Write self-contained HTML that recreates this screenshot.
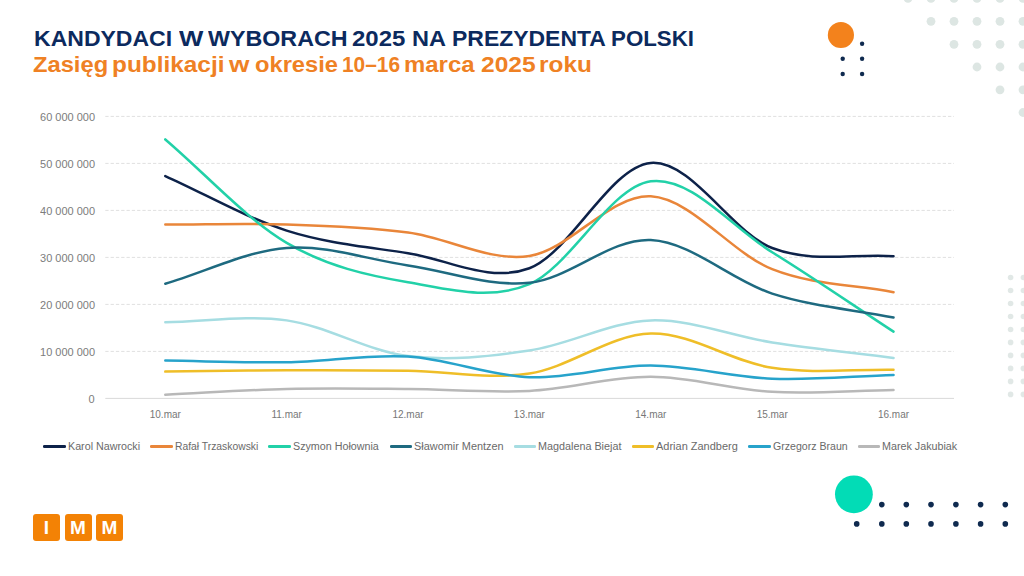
<!DOCTYPE html>
<html lang="pl"><head><meta charset="utf-8"><title>Kandydaci w wyborach 2025</title>
<style>
html,body{margin:0;padding:0;background:#fff;}
body{width:1024px;height:576px;position:relative;overflow:hidden;font-family:"Liberation Sans",sans-serif;}
svg.bg{position:absolute;left:0;top:0;}
h1,h2{margin:0;position:absolute;left:0;width:720px;height:22px;white-space:nowrap;font-weight:700;font-size:21.5px;line-height:21px;}
h1{top:29.4px;color:#0c2a5e;}
h2{top:55.2px;color:#ef8124;}
h1 span,h2 span{position:absolute;top:0;transform-origin:0 0;}

.yl{position:absolute;right:929px;font-size:10px;color:#7c7c7c;line-height:12px;white-space:nowrap;transform:scaleX(1.099);transform-origin:100% 0;}
.xl{position:absolute;top:408.6px;width:60px;text-align:center;font-size:10px;color:#777;line-height:12px;}
.lg{position:absolute;top:445px;width:22.6px;height:2.6px;border-radius:1.3px;}
.lt{position:absolute;top:440.5px;font-size:10px;color:#6a6a6a;line-height:12px;white-space:nowrap;transform-origin:0 0;}
.logo{position:absolute;top:514px;width:27px;height:27px;background:#f38205;border-radius:3px;color:#fff;font-size:19px;font-weight:700;text-align:center;line-height:27px;}
</style></head><body>
<svg class="bg" width="1024" height="576" viewBox="0 0 1024 576">
<g fill="#dde6e3"><circle cx="908.0" cy="-1.6" r="4.4"/><circle cx="931.0" cy="-1.6" r="4.4"/><circle cx="954.0" cy="-1.6" r="4.4"/><circle cx="977.0" cy="-1.6" r="4.4"/><circle cx="1000.0" cy="-1.6" r="4.4"/><circle cx="1023.0" cy="-1.6" r="4.4"/><circle cx="931.0" cy="21.3" r="4.4"/><circle cx="954.0" cy="21.3" r="4.4"/><circle cx="977.0" cy="21.3" r="4.4"/><circle cx="1000.0" cy="21.3" r="4.4"/><circle cx="1023.0" cy="21.3" r="4.4"/><circle cx="954.0" cy="44.3" r="4.4"/><circle cx="977.0" cy="44.3" r="4.4"/><circle cx="1000.0" cy="44.3" r="4.4"/><circle cx="1023.0" cy="44.3" r="4.4"/><circle cx="977.0" cy="67.0" r="4.4"/><circle cx="1000.0" cy="67.0" r="4.4"/><circle cx="1023.0" cy="67.0" r="4.4"/><circle cx="1000.0" cy="89.8" r="4.4"/><circle cx="1023.0" cy="89.8" r="4.4"/><circle cx="1023.0" cy="112.5" r="4.4"/></g>
<g fill="#e1e8e6"><circle cx="1010.6" cy="277.5" r="2.8"/><circle cx="1023.4" cy="277.5" r="2.8"/><circle cx="1010.6" cy="290.5" r="2.8"/><circle cx="1023.4" cy="290.5" r="2.8"/><circle cx="1010.6" cy="303.5" r="2.8"/><circle cx="1023.4" cy="303.5" r="2.8"/><circle cx="1010.6" cy="316.5" r="2.8"/><circle cx="1023.4" cy="316.5" r="2.8"/><circle cx="1010.6" cy="329.5" r="2.8"/><circle cx="1023.4" cy="329.5" r="2.8"/><circle cx="1010.6" cy="342.4" r="2.8"/><circle cx="1023.4" cy="342.4" r="2.8"/><circle cx="1010.6" cy="355.4" r="2.8"/><circle cx="1023.4" cy="355.4" r="2.8"/><circle cx="1010.6" cy="368.4" r="2.8"/><circle cx="1023.4" cy="368.4" r="2.8"/><circle cx="1010.6" cy="381.4" r="2.8"/><circle cx="1023.4" cy="381.4" r="2.8"/><circle cx="1010.6" cy="394.4" r="2.8"/><circle cx="1023.4" cy="394.4" r="2.8"/></g>
<circle cx="840.9" cy="35" r="13.1" fill="#f3821c"/>
<circle cx="853.9" cy="494.3" r="18.9" fill="#02dcb6"/>
<g fill="#0f2a4f"><circle cx="862.1" cy="43.8" r="2.2"/><circle cx="842.7" cy="58.8" r="2.2"/><circle cx="862.1" cy="58.8" r="2.2"/><circle cx="842.7" cy="74.0" r="2.2"/><circle cx="862.1" cy="74.0" r="2.2"/><circle cx="881.8" cy="504.6" r="2.8"/><circle cx="906.3" cy="504.6" r="2.8"/><circle cx="931.0" cy="504.6" r="2.8"/><circle cx="955.9" cy="504.6" r="2.8"/><circle cx="980.6" cy="504.6" r="2.8"/><circle cx="1005.3" cy="504.6" r="2.8"/><circle cx="856.7" cy="523.9" r="2.8"/><circle cx="881.8" cy="523.9" r="2.8"/><circle cx="906.3" cy="523.9" r="2.8"/><circle cx="931.0" cy="523.9" r="2.8"/><circle cx="955.9" cy="523.9" r="2.8"/><circle cx="980.6" cy="523.9" r="2.8"/><circle cx="1005.3" cy="523.9" r="2.8"/></g>
<g stroke="#e0e0e0" stroke-width="1" stroke-dasharray="3.3 2" fill="none"><line x1="105.3" x2="954" y1="351.40" y2="351.40"/><line x1="105.3" x2="954" y1="304.40" y2="304.40"/><line x1="105.3" x2="954" y1="257.40" y2="257.40"/><line x1="105.3" x2="954" y1="210.40" y2="210.40"/><line x1="105.3" x2="954" y1="163.40" y2="163.40"/><line x1="105.3" x2="954" y1="116.40" y2="116.40"/></g>
<line x1="105.3" x2="954" y1="398.4" y2="398.4" stroke="#d9d9d9" stroke-width="1"/>
<g fill="none" stroke-width="2.5" stroke-linecap="round" stroke-linejoin="round"><path d="M165.30 176.09 C205.76 194.26 246.21 217.76 286.67 230.61 C327.13 243.46 367.58 246.90 408.04 253.17 C448.50 259.44 488.95 283.25 529.41 268.21 C569.87 253.17 610.32 166.30 650.78 162.93 C691.24 159.56 731.69 232.45 772.15 248.00 C812.61 263.55 853.06 253.48 893.52 256.22" stroke="#0d2249"/><path d="M165.30 224.50 C205.76 224.50 246.21 223.17 286.67 224.50 C327.13 225.83 367.58 227.24 408.04 232.49 C448.50 237.74 488.95 262.02 529.41 255.99 C569.87 249.96 610.32 194.11 650.78 196.30 C691.24 198.49 731.69 253.17 772.15 269.15 C812.61 285.13 853.06 284.50 893.52 292.18" stroke="#e9863a"/><path d="M165.30 139.43 C205.76 173.90 246.21 219.02 286.67 242.83 C327.13 266.64 367.58 275.42 408.04 282.31 C448.50 289.20 488.95 301.03 529.41 284.19 C569.87 267.35 610.32 186.59 650.78 181.26 C691.24 175.93 731.69 227.16 772.15 252.23 C812.61 277.30 853.06 305.18 893.52 331.66" stroke="#22d1a8"/><path d="M165.30 283.72 C205.76 271.81 246.21 251.05 286.67 248.00 C327.13 244.94 367.58 259.59 408.04 265.39 C448.50 271.19 488.95 287.01 529.41 282.78 C569.87 278.55 610.32 238.21 650.78 240.01 C691.24 241.81 731.69 280.66 772.15 293.59 C812.61 306.51 853.06 309.57 893.52 317.56" stroke="#1e6a80"/><path d="M165.30 322.26 C205.76 321.63 246.21 314.74 286.67 320.38 C327.13 326.02 367.58 351.09 408.04 356.10 C448.50 361.11 488.95 356.41 529.41 350.46 C569.87 344.51 610.32 321.71 650.78 320.38 C691.24 319.05 731.69 336.20 772.15 342.47 C812.61 348.74 853.06 352.81 893.52 357.98" stroke="#a6dde2"/><path d="M165.30 371.61 C205.76 371.14 246.21 370.36 286.67 370.20 C327.13 370.04 367.58 370.12 408.04 370.67 C448.50 371.22 488.95 379.68 529.41 373.49 C569.87 367.30 610.32 334.48 650.78 333.54 C691.24 332.60 731.69 361.82 772.15 367.85 C812.61 373.88 853.06 369.10 893.52 369.73" stroke="#efbe28"/><path d="M165.30 360.56 C205.76 361.11 246.21 362.88 286.67 362.21 C327.13 361.54 367.58 354.06 408.04 356.57 C448.50 359.08 488.95 375.76 529.41 377.25 C569.87 378.74 610.32 365.26 650.78 365.50 C691.24 365.74 731.69 377.09 772.15 378.66 C812.61 380.23 853.06 376.15 893.52 374.90" stroke="#27a3cb"/><path d="M165.30 394.64 C205.76 392.76 246.21 389.94 286.67 389.00 C327.13 388.06 367.58 388.69 408.04 389.00 C448.50 389.31 488.95 392.92 529.41 390.88 C569.87 388.84 610.32 376.62 650.78 376.78 C691.24 376.94 731.69 389.63 772.15 391.82 C812.61 394.01 853.06 390.57 893.52 389.94" stroke="#b8b8b8"/></g>
</svg>
<h1><span style="left:34.49px;transform:scaleX(1.0708)">KANDYDACI</span> <span style="left:178.97px;transform:scaleX(1.1988)">W</span> <span style="left:208.01px;transform:scaleX(1.0818)">WYBORACH</span> <span style="left:352.45px;transform:scaleX(1.1140)">2025</span> <span style="left:411.97px;transform:scaleX(1.0939)">NA</span> <span style="left:451.50px;transform:scaleX(1.0674)">PREZYDENTA</span> <span style="left:611.04px;transform:scaleX(1.0374)">POLSKI</span></h1>
<h2><span style="left:32.98px;transform:scaleX(1.1031)">Zasięg</span> <span style="left:112.42px;transform:scaleX(1.1340)">publikacji</span> <span style="left:229.06px;transform:scaleX(1.2211)">w</span> <span style="left:254.97px;transform:scaleX(1.1020)">okresie</span> <span style="left:342.01px;transform:scaleX(0.9707)">10–16</span> <span style="left:404.28px;transform:scaleX(1.1133)">marca</span> <span style="left:481.44px;transform:scaleX(1.1408)">2025</span> <span style="left:539.40px;transform:scaleX(1.1342)">roku</span></h2>
<div class="yl" style="top:393.6px">0</div><div class="yl" style="top:346.6px">10 000 000</div><div class="yl" style="top:299.6px">20 000 000</div><div class="yl" style="top:252.6px">30 000 000</div><div class="yl" style="top:205.6px">40 000 000</div><div class="yl" style="top:158.6px">50 000 000</div><div class="yl" style="top:111.6px">60 000 000</div>
<div class="xl" style="left:135.3px">10.mar</div><div class="xl" style="left:256.7px">11.mar</div><div class="xl" style="left:378.0px">12.mar</div><div class="xl" style="left:499.4px">13.mar</div><div class="xl" style="left:620.8px">14.mar</div><div class="xl" style="left:742.2px">15.mar</div><div class="xl" style="left:863.5px">16.mar</div>
<div class="lg" style="left:43.2px;background:#0d2249"></div><div class="lt" style="left:67.6px;transform:scaleX(1.072)">Karol Nawrocki</div><div class="lg" style="left:150.2px;background:#e9863a"></div><div class="lt" style="left:174.7px;transform:scaleX(1.034)">Rafał Trzaskowski</div><div class="lg" style="left:268.4px;background:#22d1a8"></div><div class="lt" style="left:293.0px;transform:scaleX(1.072)">Szymon Hołownia</div><div class="lg" style="left:389.5px;background:#1e6a80"></div><div class="lt" style="left:413.6px;transform:scaleX(1.090)">Sławomir Mentzen</div><div class="lg" style="left:513.5px;background:#a6dde2"></div><div class="lt" style="left:538.0px;transform:scaleX(1.079)">Magdalena Biejat</div><div class="lg" style="left:631.6px;background:#efbe28"></div><div class="lt" style="left:656.4px;transform:scaleX(1.098)">Adrian Zandberg</div><div class="lg" style="left:748.4px;background:#27a3cb"></div><div class="lt" style="left:772.5px;transform:scaleX(1.058)">Grzegorz Braun</div><div class="lg" style="left:857.6px;background:#b8b8b8"></div><div class="lt" style="left:882.2px;transform:scaleX(1.074)">Marek Jakubiak</div>
<div class="logo" style="left:33px">I</div><div class="logo" style="left:64.5px">M</div><div class="logo" style="left:96px">M</div>
</body></html>
